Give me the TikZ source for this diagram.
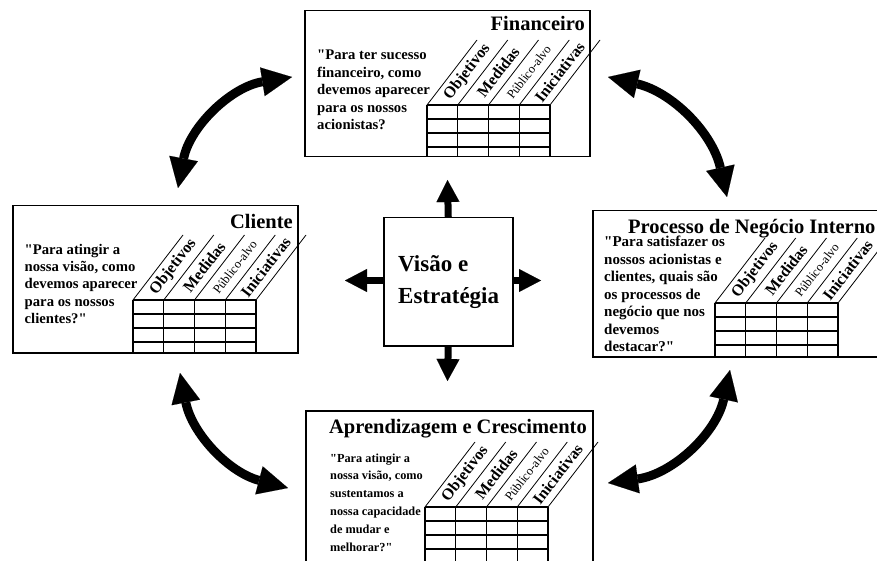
\documentclass[tikz,border=0pt]{standalone}
\usepackage{fontspec}
\setmainfont{Liberation Serif}[Ligatures=TeXOff]
\usetikzlibrary{arrows.meta}

\tikzset{
  panel/.style={draw, line width=1.5pt, fill=white, anchor=north west, inner sep=0pt},
  gridline/.style={line width=1.3pt},
  slantline/.style={line width=0.8pt},
  colhead/.style={rotate=52.4, inner sep=0pt, font=\fontsize{16}{16}\selectfont\bfseries},
  colsmall/.style={rotate=52.4, inner sep=0pt, font=\fontsize{12.5}{13}\selectfont},
  % multi-line nodes: the base anchor sits on the last line
  quote/.style={anchor=base west, inner sep=0pt, align=left, font=\fontsize{14.7}{17.4}\selectfont\bfseries},
  paneltitle/.style={anchor=base east, inner sep=0pt, font=\fontsize{20.5}{24}\selectfont\bfseries},
  coretext/.style={anchor=base west, inner sep=0pt, font=\fontsize{23}{28}\selectfont\bfseries},
  fatarrow/.style={line width=7pt, -{Triangle[width=23pt,length=22pt,line width=0.1pt]}},
  bigarrow/.style={line width=9pt, {Triangle[width=29pt,length=30pt,line width=0.1pt]}-{Triangle[width=29pt,length=30pt,line width=0.1pt]}}
}

% Measures table: #1 left x, #2 top y, #3 bottom y, #4 name prefix
\newcommand\measuretable[4]{%
  \foreach \i in {0,...,4}{
    \draw[gridline] (#1+\i*30.75,#2) -- (#1+\i*30.75,#3);
    \draw[slantline] (#1+\i*30.75,#2) -- ++(50,-65);
  }
  \foreach \j in {0,...,3}{
    \draw[gridline] (#1,#2+\j*14) -- (#1+123,#2+\j*14);
  }
  \foreach \lab/\sty [count=\k from 0] in {Objetivos/colhead, Medidas/colhead, Público-alvo/colsmall, Iniciativas/colhead}{
    \node[\sty] (#4-\k) at (#1+\k*30.75+15.4+25,#2-33) {\lab};
  }
}

\begin{document}
\begin{tikzpicture}[x=1pt,y=-1pt]
\useasboundingbox (0,0) rectangle (877,561);
\fill[white] (0,0) rectangle (877,561);
\clip (0,0) rectangle (877,561);

% four perspective panels
\node[panel, minimum width=285pt, minimum height=146pt] (fin) at (304,10) {};
\node[panel, minimum width=285pt, minimum height=147pt] (cli) at (12,205) {};
\node[panel, minimum width=300pt, minimum height=146pt] (pro) at (592,210) {};
\node[panel, minimum width=287pt, minimum height=175pt] (apr) at (305,410) {};

% titles
\node[paneltitle] (fin-title) at (585,31) {Financeiro};
\node[paneltitle] (cli-title) at (293,228.5) {Cliente};
\node[paneltitle, anchor=base west] (pro-title) at (628,233.5) {Processo de Negócio Interno};
\node[paneltitle] (apr-title) at (587,433.5) {Aprendizagem e Crescimento};

% guiding questions
\node[quote] (fin-q) at (317,129.6) {"Para ter sucesso\\financeiro, como\\devemos aparecer\\para os nossos\\acionistas?};
\node[quote, font=\fontsize{14.7}{17.25}\selectfont\bfseries] (cli-q) at (24.5,323.3) {"Para atingir a\\nossa visão, como\\devemos aparecer\\para os nossos\\clientes?"};
\node[quote, font=\fontsize{15}{17.5}\selectfont\bfseries] (pro-q) at (604,351.5) {"Para satisfazer os\\nossos acionistas e\\clientes, quais são\\os processos de\\negócio que nos\\devemos\\destacar?"};
\node[quote, font=\fontsize{12.3}{17.9}\selectfont\bfseries] (apr-q) at (330,551.5) {"Para atingir a\\nossa visão, como\\sustentamos a\\nossa capacidade\\de mudar e\\melhorar?"};

% measures tables
\measuretable{427}{105}{156}{fin}
\measuretable{133}{300}{352}{cli}
\measuretable{715}{303}{356}{pro}
\measuretable{425}{507}{575}{apr}

% central vision box
\node[panel, minimum width=129pt, minimum height=128pt] (vis) at (383,217) {};
\node[coretext] (vis-1) at (398,271.7) {Visão e};
\node[coretext] (vis-2) at (398,303.5) {Estratégia};

\coordinate (upTip) at (447.5,180);
\coordinate (downTip) at (447.5,381);
\coordinate (leftTip) at (345,280.5);
\coordinate (rightTip) at (541,280.5);
\draw[fatarrow] (vis.north) -- (upTip);
\draw[fatarrow] (vis.south) -- (downTip);
\draw[fatarrow] (vis.west |- leftTip) -- (leftTip);
\draw[fatarrow] (vis.east |- rightTip) -- (rightTip);

% curved two-way arrows between neighbouring perspectives
\coordinate (tlA) at (292,77);
\coordinate (tlB) at (178,188);
\coordinate (trA) at (608,77);
\coordinate (trB) at (727,197);
\coordinate (blA) at (180,373);
\coordinate (blB) at (288,488);
\coordinate (brA) at (730,370);
\coordinate (brB) at (608,483);
\draw[bigarrow] (tlA) .. controls (230.8,86.9) and (189.6,127.1) .. (tlB);
\draw[bigarrow] (trA) .. controls (672.2,92.1) and (712.4,132.6) .. (trB);
\draw[bigarrow] (blA) .. controls (191.9,433.3) and (228.5,472.3) .. (blB);
\draw[bigarrow] (brA) .. controls (716.3,433.5) and (672.4,474.2) .. (brB);
\end{tikzpicture}
\end{document}
